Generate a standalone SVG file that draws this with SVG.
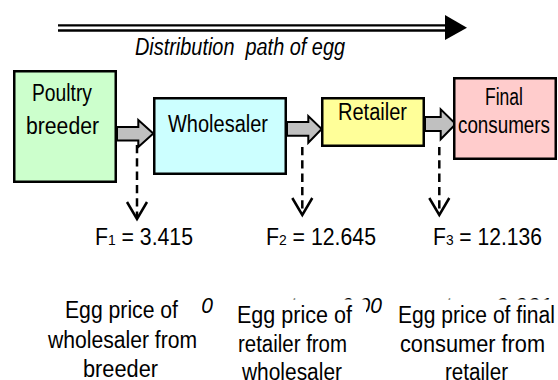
<svg xmlns="http://www.w3.org/2000/svg" width="558" height="380" viewBox="0 0 558 380">
<style>
text{font-family:"Liberation Sans Narrow","Liberation Sans",Arial,sans-serif;font-size:23px;fill:#000}
.box{stroke:#000;stroke-width:2.5}
.blk{fill:#c0c0c0;stroke:#000;stroke-width:2;stroke-linejoin:miter}
.dash{stroke:#000;stroke-width:2.5;stroke-dasharray:8.3 5;fill:none}
.vhead{stroke:#000;stroke-width:2.5;fill:none}
.hid{font-style:italic;font-size:22px}
.sub{font-size:15px}
</style>
<defs>
<clipPath id="cut">
<rect x="0" y="0" width="202" height="290"/>
<rect x="202" y="0" width="30" height="380"/>
<rect x="232" y="0" width="134" height="299.5"/>
<rect x="366" y="0" width="18" height="380"/>
<rect x="384" y="0" width="174" height="299.5"/>
</clipPath>
</defs>
<rect width="558" height="380" fill="#fff"/>

<g id="title">
<line x1="58" y1="25.3" x2="448" y2="25.3" stroke="#000" stroke-width="2.3"/>
<line x1="58" y1="30.5" x2="448" y2="30.5" stroke="#000" stroke-width="2.3"/>
<polygon points="445,15 467,27.8 445,40" fill="#000"/>
<text x="135" y="55" font-style="italic" font-size="24" textLength="210" lengthAdjust="spacingAndGlyphs" xml:space="preserve">Distribution  path of egg</text>
</g>

<g id="connectors">
<polygon class="blk" points="117,127 138.3,127 138.3,120 153.3,133.5 138.3,147 138.3,140.5 117,140.5"/>
<polygon class="blk" points="287,122 308.3,122 308.3,116 321.7,129 308.3,142.7 308.3,135.7 287,135.7"/>
<polygon class="blk" points="425,117 440.7,117 440.7,109.3 455.7,124 440.7,139.3 440.7,131 425,131"/>
<line class="dash" x1="137" y1="145" x2="137" y2="217"/>
<polyline class="vhead" points="127,202 137,219 147,202"/>
<line class="dash" x1="302.3" y1="147" x2="302.3" y2="213"/>
<polyline class="vhead" points="292.3,198 302.3,215 312.3,198"/>
<line class="dash" x1="439.3" y1="147" x2="439.3" y2="213"/>
<polyline class="vhead" points="429.3,198 439.3,215 449.3,198"/>
</g>

<g id="poultry-breeder">
<rect class="box" x="14.25" y="71.25" width="101.5" height="110.5" fill="#ccffcc"/>
<text x="32" y="101" textLength="60" lengthAdjust="spacingAndGlyphs">Poultry</text>
<text x="26" y="134" textLength="73" lengthAdjust="spacingAndGlyphs">breeder</text>
</g>

<g id="wholesaler">
<rect class="box" x="154.25" y="98.25" width="131.5" height="75.5" fill="#ccffff"/>
<text x="168" y="132" textLength="100" lengthAdjust="spacingAndGlyphs">Wholesaler</text>
</g>

<g id="retailer">
<rect class="box" x="322.25" y="98.25" width="101.5" height="47.5" fill="#ffff99"/>
<text x="338" y="120" textLength="69" lengthAdjust="spacingAndGlyphs">Retailer</text>
</g>

<g id="final-consumers">
<rect class="box" x="454.25" y="78.25" width="101.5" height="80.5" fill="#ffcccc"/>
<text x="485" y="105" textLength="38" lengthAdjust="spacingAndGlyphs">Final</text>
<text x="458" y="133" textLength="92" lengthAdjust="spacingAndGlyphs">consumers</text>
</g>

<g id="f-values">
<text x="95" y="245" textLength="98" lengthAdjust="spacingAndGlyphs">F<tspan class="sub">1</tspan> = 3.415</text>
<text x="266" y="245" textLength="110" lengthAdjust="spacingAndGlyphs">F<tspan class="sub">2</tspan> = 12.645</text>
<text x="433" y="245" textLength="109" lengthAdjust="spacingAndGlyphs">F<tspan class="sub">3</tspan> = 12.136</text>
</g>

<g id="hidden-values" clip-path="url(#cut)">
<text class="hid" x="172" y="313" textLength="41" lengthAdjust="spacingAndGlyphs">0.00</text>
<text class="hid" x="290" y="313">t</text>
<text class="hid" x="341" y="313" textLength="41" lengthAdjust="spacingAndGlyphs">0.00</text>
<text class="hid" x="445" y="313">t</text>
<text class="hid" x="495" y="313" textLength="57" lengthAdjust="spacingAndGlyphs">0.001</text>
</g>

<g id="label-wholesaler-price">
<text x="65" y="318" textLength="113" lengthAdjust="spacingAndGlyphs">Egg price of</text>
<text x="48" y="348" textLength="149" lengthAdjust="spacingAndGlyphs">wholesaler from</text>
<text x="83" y="377" textLength="75" lengthAdjust="spacingAndGlyphs">breeder</text>
</g>

<g id="label-retailer-price">
<text x="237" y="323" textLength="115" lengthAdjust="spacingAndGlyphs">Egg price of</text>
<text x="238" y="352" textLength="109" lengthAdjust="spacingAndGlyphs">retailer from</text>
<text x="242" y="380" textLength="100" lengthAdjust="spacingAndGlyphs">wholesaler</text>
</g>

<g id="label-consumer-price">
<text x="398" y="323" textLength="157" lengthAdjust="spacingAndGlyphs">Egg price of final</text>
<text x="400" y="352" textLength="145" lengthAdjust="spacingAndGlyphs">consumer  from</text>
<text x="445" y="380" textLength="63" lengthAdjust="spacingAndGlyphs">retailer</text>
</g>
</svg>
